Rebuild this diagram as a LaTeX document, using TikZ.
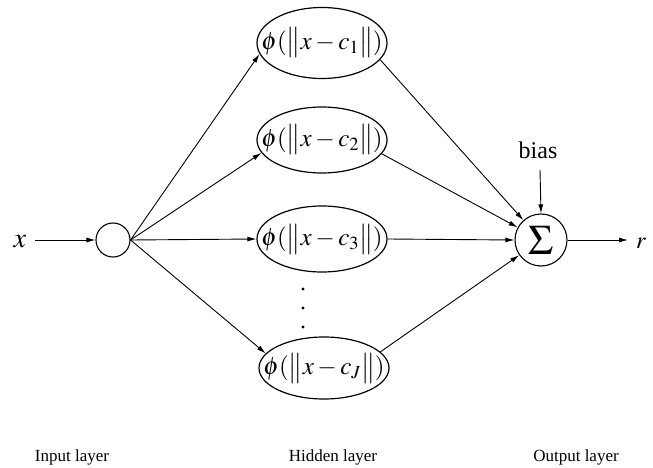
\documentclass[tikz,border=0pt]{standalone}
\usepackage{mathptmx}
\usepackage[no-math]{fontspec}
\setmainfont{Liberation Serif}
\usetikzlibrary{shapes.geometric,arrows.meta}

\tikzset{
  conn/.style={line width=0.9pt, -{Latex[length=9pt,width=5pt]}},
  rbf/.style={draw, ellipse, line width=1.2pt, minimum width=130pt, minimum height=66pt,
              inner sep=0pt, font=\fontsize{25}{30}\selectfont},
  unit/.style={draw, circle, line width=1.1pt, inner sep=0pt},
  caption/.style={inner sep=0pt, anchor=base, font=\fontsize{17}{20}\selectfont},
  dot/.style={circle, fill, inner sep=0pt, minimum size=3.2pt}
}
% formula set on a zero-width box so the ellipse keeps its fixed size
\newcommand{\rbfterm}[1]{\makebox[0pt]{$\phi(\bigl\| x - c_{#1} \bigr\|)$}}

\begin{document}
\begin{tikzpicture}[x=1pt, y=-1pt]
  \useasboundingbox (0,0) rectangle (653,468);

  % input
  \node[inner sep=0pt, anchor=base, font=\fontsize{28}{30}\selectfont] (xin) at (20,247) {$x$};
  \coordinate (xstart) at (35,240);
  \node[unit, minimum size=34pt] (in) at (113,240) {};

  % hidden radial basis units
  \node[rbf, minimum height=71pt] (e1) at (322,43) {\rbfterm{1}};
  \node[rbf] (e2) at (322,140) {\rbfterm{2}};
  \node[rbf] (e3) at (322,239) {\rbfterm{3}};
  \node[rbf, minimum height=62pt] (e4) at (324,368) {\rbfterm{J}};

  % vertical ellipsis between unit 3 and unit J
  \node[dot] (d1) at (303,289) {};
  \node[dot] (d2) at (303,308) {};
  \node[dot] (d3) at (303,327) {};

  % output summation unit
  \node[unit, minimum size=52pt, font=\fontsize{42}{44}\selectfont] (sum) at (541,240) {$\Sigma$};
  \node[inner sep=0pt, anchor=base, font=\fontsize{24}{26}\selectfont] (bias) at (538,158) {bias};
  \coordinate (biastop) at (540,170);
  \node[inner sep=0pt, anchor=base, font=\fontsize{24}{26}\selectfont] (rout) at (641,248) {$r$};
  \coordinate (rend) at (628,240);

  % connections
  \draw[conn] (xstart) -- (in.west);
  \draw[conn] (in.east) -- (e1.190);
  \draw[conn] (in.east) -- (e2.192);
  \draw[conn] (in.east) -- (e3.west);
  \draw[conn] (in.east) -- (e4.166);

  \draw[conn] (e1.-16) -- (sum);
  \draw[conn] (e2.-13) -- (sum);
  \draw[conn] (e3.east) -- (sum.west);
  \draw[conn] (e4.16) -- (sum);

  \draw[conn] (biastop) -- (sum.north);
  \draw[conn] (sum.east) -- (rend);

  % layer captions
  \node[caption] (lin) at (72,461) {Input layer};
  \node[caption] (lhid) at (333,461) {Hidden layer};
  \node[caption] (lout) at (576,461) {Output layer};
\end{tikzpicture}
\end{document}
